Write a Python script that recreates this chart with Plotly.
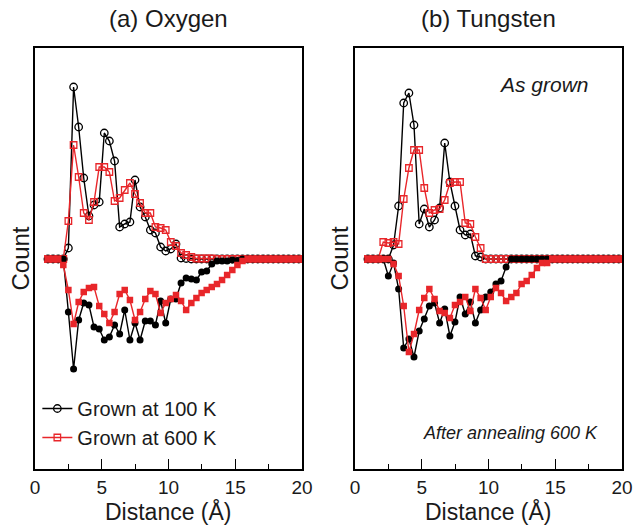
import plotly.graph_objects as go

# ---------------- data ----------------
distance = [0.97, 1.35, 1.74, 2.12, 2.50, 2.89, 3.27, 3.65, 4.04, 4.42,
            4.81, 5.19, 5.57, 5.96, 6.34, 6.72, 7.11, 7.49, 7.87, 8.26,
            8.64, 9.02, 9.41, 9.79, 10.17, 10.56, 10.94, 11.32, 11.71, 12.09,
            12.48, 12.86, 13.24, 13.63, 14.01, 14.39, 14.78, 15.16, 15.54, 15.93,
            16.31, 16.69, 17.08, 17.46, 17.84, 18.23, 18.61, 18.99, 19.38, 19.76]

# (a) Oxygen, as grown (upper, positive counts)
oxy_100_grown = [0, 0, 0, 0, 11, 172, 132, 81, 43, 54,
                 57, 126, 118, 98, 32, 35, 37, 79, 52, 42,
                 29, 26, 12, 8, 10, 15, 1, 0.5, 0, 0,
                 0, 0, 0, 0, 0, 0, 0, 0, 0, 0,
                 0, 0, 0, 0, 0, 0, 0, 0, 0, 0]
oxy_600_grown = [0, 0, 0, 0, 38, 114, 82, 46, 39, 57,
                 92, 92, 87, 58, 61, 69, 76, 65, 56, 46,
                 46, 32, 31, 29, 17, 13, 6, 4, 2, 0.5,
                 0.5, 0.5, 0.5, 0, 0, 0, 0, 0, 0, 0,
                 0, 0, 0, 0, 0, 0, 0, 0, 0, 0]
# (a) Oxygen, after annealing 600 K (lower, shown negative)
oxy_100_anneal = [0, 0, 0, 0, -53, -110, -61, -44, -46, -68,
                  -70, -81, -78, -66, -75, -51, -81, -64, -81, -62,
                  -62, -66, -42, -64, -40, -40, -24, -19, -20, -21,
                  -13, -12, -5, -2, -2, -2, -1, -1.5, 0, 0,
                  0, 0, 0, 0, 0, 0, 0, 0, 0, 0]
oxy_600_anneal = [0, 0, 0, -6, -31, -65, -43, -33, -29, -28,
                  -47, -55, -64, -53, -35, -31, -41, -61, -53, -40,
                  -32, -35, -54, -44, -40, -36, -42, -51, -44, -39,
                  -34, -31, -28, -25, -21, -16, -11, -6, -2, 0,
                  0, 0, 0, 0, 0, 0, 0, 0, 0, 0]

# (b) Tungsten, as grown
w_100_grown = [0, 0, 0, 0, 0, 14, 53, 156, 166, 134,
               35, 50, 32, 39, 51, 116, 77, 53, 29, 24,
               25, 3, 2, 0, 0, 0, 0, 0, 0, 0,
               0, 0, 0, 0, 0, 0, 0, 0, 0, 0,
               0, 0, 0, 0, 0, 0, 0, 0, 0, 0]
w_600_grown = [0, 0, 0, 17, 16, 17, 15, 60, 91, 109,
               109, 71, 46, 49, 50, 59, 76, 77, 77, 36,
               35, 22, 11, 0, 0, 0, 0, 0, 0, 0,
               0, 0, 0, 0, 0, 0, 0, 0, 0, 0,
               0, 0, 0, 0, 0, 0, 0, 0, 0, 0]
# (b) Tungsten, after annealing 600 K
w_100_anneal = [0, 0, 0, 0, -17, -4, -30, -89, -80, -98,
                -72, -60, -47, -44, -64, -50, -77, -63, -38, -55,
                -43, -64, -51, -38, -33, -25, -22, -8, 0, 0,
                0, 0, 0, 0, 0, 0, 0, 0, 0, 0,
                0, 0, 0, 0, 0, 0, 0, 0, 0, 0]
w_600_anneal = [0, 0, 0, 0, 0, -5, -17, -47, -93, -75,
                -51, -39, -30, -40, -52, -54, -59, -46, -43, -38,
                -52, -30, -39, -51, -38, -29, -34, -42, -38, -34,
                -25, -22, -16, -9, -4, -4, 0, 0, 0, 0,
                0, 0, 0, 0, 0, 0, 0, 0, 0, 0]

panel_titles = ["(a) Oxygen", "(b) Tungsten"]
series_names = ["Grown at 100 K", "Grown at 600 K"]
x_ticks = [0, 5, 10, 15, 20]

# ---------------- styling ----------------
BLACK = "#000000"
RED = "#e8262a"
FONT = "Liberation Sans, Arial, Helvetica, sans-serif"
TXT = "#1a1a1a"

fig = go.Figure()

panels = [
    ("x", "y", oxy_100_grown, oxy_600_grown, oxy_100_anneal, oxy_600_anneal, True),
    ("x2", "y2", w_100_grown, w_600_grown, w_100_anneal, w_600_anneal, False),
]

for xa, ya, g100, g600, a100, a600, show_leg in panels:
    fig.add_trace(go.Scatter(
        x=distance, y=g100, xaxis=xa, yaxis=ya, mode="lines+markers",
        name=series_names[0], showlegend=show_leg, legendrank=1,
        line=dict(color=BLACK, width=1.4),
        marker=dict(symbol="circle-open", size=7.5, color=BLACK, line=dict(width=1.3)),
    ))
    fig.add_trace(go.Scatter(
        x=distance, y=g600, xaxis=xa, yaxis=ya, mode="lines+markers",
        name=series_names[1], showlegend=show_leg, legendrank=2,
        line=dict(color=RED, width=1.4),
        marker=dict(symbol="square-open", size=6.5, color=RED, line=dict(width=1.3)),
    ))
    fig.add_trace(go.Scatter(
        x=distance, y=a100, xaxis=xa, yaxis=ya, mode="lines+markers",
        name=series_names[0] + " (annealed)", showlegend=False,
        line=dict(color=BLACK, width=1.4),
        marker=dict(symbol="circle", size=7, color=BLACK),
    ))
    fig.add_trace(go.Scatter(
        x=distance, y=a600, xaxis=xa, yaxis=ya, mode="lines+markers",
        name=series_names[1] + " (annealed)", showlegend=False,
        line=dict(color=RED, width=1.4),
        marker=dict(symbol="square", size=6.5, color=RED),
    ))

tick_style = dict(
    range=[0, 20], tickvals=x_ticks, ticks="inside", ticklen=10, tickwidth=1.3,
    tickcolor=BLACK, minor=dict(ticks="inside", dtick=2.5, tick0=0, ticklen=5,
                                tickwidth=1.3, tickcolor=BLACK),
    showgrid=False, zeroline=False, automargin=False,
)
xaxis_bottom = dict(
    showline=True, linecolor=BLACK, linewidth=1.5, mirror=True,
    tickfont=dict(family=FONT, size=19, color=TXT), **tick_style,
)
xaxis_top = dict(showline=False, showticklabels=False, side="top", **tick_style)
yaxis_common = dict(
    range=[-210, 211], showticklabels=False, ticks="",
    showline=True, linecolor=BLACK, linewidth=1.5, mirror=True,
    showgrid=False, zeroline=False, automargin=False,
)

dom_a = [0, 0.4549]
dom_b = [0.5451, 1]

fig.update_layout(
    width=634, height=525,
    margin=dict(l=35, r=12, t=48, b=56),
    paper_bgcolor="white", plot_bgcolor="white",
    font=dict(family=FONT, color=TXT),
    xaxis=dict(domain=dom_a, anchor="y", **xaxis_bottom),
    yaxis=dict(domain=[0, 1], anchor="x", **yaxis_common),
    xaxis2=dict(domain=dom_b, anchor="y2", **xaxis_bottom),
    yaxis2=dict(domain=[0, 1], anchor="x2", **yaxis_common),
    xaxis3=dict(domain=dom_a, anchor="y", overlaying="x", **xaxis_top),
    xaxis4=dict(domain=dom_b, anchor="y2", overlaying="x2", **xaxis_top),
    legend=dict(x=0.004, y=0.19, xanchor="left", yanchor="top",
                bgcolor="rgba(0,0,0,0)", borderwidth=0,
                font=dict(family=FONT, size=20, color=TXT),
                itemwidth=30, tracegroupgap=0),
    showlegend=True,
)

annotations = []
for dom, title in zip([dom_a, dom_b], panel_titles):
    cx = (dom[0] + dom[1]) / 2
    annotations.append(dict(text=title, xref="paper", yref="paper", x=cx, y=1,
                            xanchor="center", yanchor="bottom", yshift=14,
                            showarrow=False, font=dict(family=FONT, size=24, color=TXT)))
    annotations.append(dict(text="Distance (Å)", xref="paper", yref="paper", x=cx, y=0,
                            xanchor="center", yanchor="top", yshift=-27,
                            showarrow=False, font=dict(family=FONT, size=23, color=TXT)))
    annotations.append(dict(text="Count", xref="paper", yref="paper", x=dom[0], y=0.5,
                            xanchor="center", yanchor="middle", xshift=-15, textangle=-90,
                            showarrow=False, font=dict(family=FONT, size=24, color=TXT)))

annotations.append(dict(text="<i>As grown</i>", xref="x2", yref="y2", x=17.65, y=175,
                        xanchor="right", yanchor="middle", showarrow=False,
                        font=dict(family=FONT, size=21, color=TXT)))
annotations.append(dict(text="<i>After annealing 600 K</i>", xref="x2", yref="y2", x=11.67, y=-174,
                        xanchor="center", yanchor="middle", showarrow=False,
                        font=dict(family=FONT, size=18, color=TXT)))
fig.update_layout(annotations=annotations)

fig.write_html("out.html")
